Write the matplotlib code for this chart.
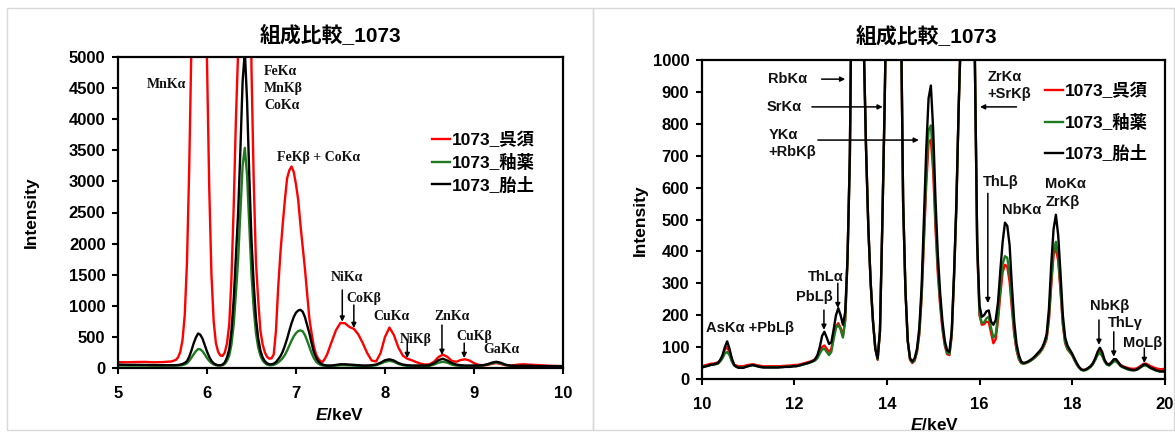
import matplotlib
matplotlib.use("Agg")
import matplotlib.pyplot as plt
from matplotlib.patches import Rectangle

plt.rcParams['font.family'] = ['Liberation Sans', 'Noto Sans CJK JP', 'DejaVu Sans']
plt.rcParams['mathtext.fontset'] = 'custom'
plt.rcParams['mathtext.it'] = 'Liberation Sans:bold:italic'
plt.rcParams['mathtext.rm'] = 'Liberation Sans:bold'

# ---------------- data: left panel (5-10 keV) ----------------
energy_low = [5.0, 5.1, 5.2, 5.3, 5.4, 5.5, 5.6,
              5.650, 5.675, 5.700, 5.725, 5.750, 5.775, 5.800, 5.825, 5.850, 5.875, 5.900, 5.925, 5.950, 5.975,
              6.000, 6.025, 6.050, 6.075, 6.100, 6.125, 6.150, 6.175, 6.200, 6.225, 6.250, 6.275, 6.300, 6.325,
              6.350, 6.375, 6.400, 6.425, 6.450, 6.475, 6.500, 6.525, 6.550, 6.575, 6.600, 6.625, 6.650, 6.675,
              6.700, 6.725, 6.750, 6.775, 6.800, 6.825, 6.850, 6.875, 6.900, 6.925, 6.950, 6.975,
              7.000, 7.025, 7.050, 7.075, 7.100, 7.125, 7.150, 7.175, 7.200, 7.225, 7.250, 7.275, 7.300, 7.325, 7.350,
              7.40, 7.45, 7.50, 7.55, 7.60, 7.65, 7.70, 7.75, 7.80, 7.85, 7.90, 7.95,
              8.00, 8.05, 8.10, 8.15, 8.20, 8.25, 8.30, 8.35, 8.40, 8.45, 8.50, 8.55, 8.60, 8.65, 8.70, 8.75, 8.80, 8.85, 8.90, 8.95,
              9.00, 9.05, 9.10, 9.15, 9.20, 9.25, 9.30, 9.35, 9.40, 9.45, 9.50, 9.55, 9.60, 9.65, 9.70, 9.75, 9.80, 9.85, 9.90, 9.95,
              10.00]

gosu_low = [95, 92, 96, 98, 92, 95, 105,
            130, 170, 260, 450, 850, 1700, 3200, 5200, 8500, 11500, 13000, 12500, 10000, 7000,
            4900, 2900, 1500, 750, 400, 260, 200, 195, 250, 400, 700, 1450, 2600, 4000,
            5100, 9000, 14000, 16000, 13000, 8000, 4800, 3000, 1700, 1100, 600, 380, 250, 180,
            150, 155, 220, 600, 1300, 1850, 2300, 2700, 3050, 3180, 3240, 3150,
            2950, 2700, 2300, 1950, 1600, 1200, 800, 560, 350, 220, 150, 110, 100, 150, 220,
            420, 610, 725, 720, 660, 630, 540, 400, 240, 120, 105, 240,
            500, 650, 530, 330, 200, 150, 125, 95, 70, 55, 60, 100, 175, 215, 180, 115, 100, 128, 140, 120,
            78, 52, 42, 48, 68, 80, 65, 45, 40, 45, 55, 60, 55, 52, 48, 44, 40, 36, 34, 32,
            30]

yuyaku_low = [40, 40, 40, 40, 38, 38, 38,
              38, 40, 42, 48, 58, 75, 115, 165, 220, 270, 305, 300, 268, 218,
              160, 115, 80, 58, 45, 40, 40, 45, 65, 115, 200, 380, 700, 1200,
              1750, 2500, 3250, 3540, 3100, 2300, 1500, 950, 560, 330, 200, 120, 80, 55,
              45, 45, 50, 65, 90, 120, 160, 210, 280, 360, 440, 510,
              560, 595, 605, 590, 530, 440, 340, 240, 160, 105, 70, 50, 40, 35, 35,
              32, 38, 45, 45, 42, 38, 35, 32, 32, 35, 45, 70,
              100, 115, 100, 65, 45, 35, 32, 30, 30, 30, 35, 55, 85, 100, 85, 55, 40, 32, 30, 30,
              30, 32, 40, 55, 75, 90, 75, 50, 35, 30, 30, 30, 30, 30, 28, 28, 28, 28, 28, 28,
              28]

taido_low = [55, 50, 50, 48, 46, 45, 45,
             46, 48, 54, 65, 82, 110, 180, 280, 395, 490, 555, 535, 470, 370,
             265, 180, 115, 75, 55, 45, 45, 55, 90, 170, 300, 600, 1100, 1800,
             2500, 3500, 4600, 5100, 4300, 3100, 2050, 1350, 800, 480, 280, 170, 110, 75,
             60, 60, 70, 95, 140, 190, 260, 360, 470, 600, 720, 820,
             890, 925, 935, 905, 820, 690, 560, 400, 260, 170, 110, 75, 55, 45, 40,
             40, 50, 60, 60, 55, 50, 45, 40, 40, 45, 55, 85,
             125, 140, 120, 80, 55, 45, 40, 40, 40, 40, 45, 75, 125, 150, 120, 80, 55, 45, 40, 40,
             40, 40, 45, 60, 85, 100, 85, 55, 40, 35, 35, 35, 35, 35, 30, 30, 30, 30, 30, 30,
             30]

# ---------------- data: right panel (10-20 keV) ----------------
energy_high = [10.00, 10.05, 10.10, 10.15, 10.20, 10.25, 10.30, 10.35, 10.40, 10.45, 10.50, 10.55, 10.60, 10.65, 10.70, 10.75, 10.80, 10.85, 10.90, 10.95,
               11.00, 11.05, 11.10, 11.15, 11.20, 11.25, 11.30, 11.35, 11.40, 11.45, 11.50, 11.55, 11.60, 11.65, 11.70, 11.75, 11.80, 11.85, 11.90, 11.95,
               12.00, 12.05, 12.10, 12.15, 12.20, 12.25, 12.30, 12.35, 12.40, 12.45, 12.50, 12.55, 12.60, 12.65, 12.70, 12.75, 12.80, 12.85, 12.90, 12.95,
               13.00, 13.05, 13.10, 13.15, 13.20, 13.25, 13.30, 13.35, 13.40, 13.45, 13.50, 13.55, 13.60, 13.65, 13.70, 13.75, 13.80, 13.85, 13.90, 13.95,
               14.00, 14.05, 14.10, 14.15, 14.20, 14.25, 14.30, 14.35, 14.40, 14.45, 14.50, 14.55, 14.60, 14.65, 14.70, 14.75, 14.80, 14.85, 14.90, 14.95,
               15.00, 15.05, 15.10, 15.15, 15.20, 15.25, 15.30, 15.35, 15.40, 15.45, 15.50, 15.55, 15.60, 15.65, 15.70, 15.75, 15.80, 15.85, 15.90, 15.95,
               16.00, 16.05, 16.10, 16.15, 16.20, 16.25, 16.30, 16.35, 16.40, 16.45, 16.50, 16.55, 16.60, 16.65, 16.70, 16.75, 16.80, 16.85, 16.90, 16.95,
               17.00, 17.05, 17.10, 17.15, 17.20, 17.25, 17.30, 17.35, 17.40, 17.45, 17.50, 17.55, 17.60, 17.65, 17.70, 17.75, 17.80, 17.85, 17.90, 17.95,
               18.00, 18.05, 18.10, 18.15, 18.20, 18.25, 18.30, 18.35, 18.40, 18.45, 18.50, 18.55, 18.60, 18.65, 18.70, 18.75, 18.80, 18.85, 18.90, 18.95,
               19.00, 19.05, 19.10, 19.15, 19.20, 19.25, 19.30, 19.35, 19.40, 19.45, 19.50, 19.55, 19.60, 19.65, 19.70, 19.75, 19.80, 19.85, 19.90, 19.95,
               20.00]

gosu_high = [40, 42, 44, 46, 48, 48, 50, 52, 58, 70, 92, 100, 85, 60, 45, 42, 40, 40, 40, 42,
             44, 45, 46, 45, 43, 42, 40, 40, 40, 40, 40, 40, 40, 40, 40, 41, 41, 42, 42, 43,
             44, 44, 45, 47, 49, 51, 53, 55, 58, 62, 70, 85, 100, 105, 95, 85, 95, 135, 165, 175,
             160, 135, 185, 380, 700, 1400, 2200, 2800, 2700, 1900, 1050, 720, 470, 300, 180, 95, 60, 150, 480, 850,
             1300, 2500, 3500, 3800, 3300, 2300, 1200, 560, 280, 120, 60, 50, 58, 85, 140, 255, 430, 610, 740, 750,
             650, 470, 330, 230, 155, 105, 78, 75, 135, 315, 535, 850, 1100, 2500, 3800, 4200, 3600, 2000, 1000, 415,
             200, 170, 172, 180, 178, 145, 112, 125, 185, 265, 335, 358, 352, 305, 220, 140, 90, 62, 50, 48,
             50, 53, 57, 62, 68, 75, 82, 92, 106, 125, 185, 295, 390, 410, 370, 275, 170, 112, 93, 84,
             75, 60, 46, 36, 30, 28, 30, 34, 40, 48, 62, 78, 86, 76, 58, 48, 46, 52, 60, 60,
             52, 44, 40, 37, 35, 33, 32, 32, 34, 38, 43, 48, 48, 44, 40, 37, 34, 32, 31, 31,
             32]

yuyaku_high = [38, 40, 40, 42, 44, 45, 46, 48, 55, 65, 80, 85, 75, 55, 42, 38, 36, 36, 36, 38,
               40, 42, 43, 42, 40, 38, 37, 37, 37, 37, 37, 37, 37, 37, 37, 38, 38, 38, 39, 40,
               40, 41, 42, 44, 46, 48, 50, 52, 55, 58, 65, 80, 92, 95, 85, 75, 85, 125, 160, 170,
               155, 130, 185, 380, 700, 1400, 2200, 2800, 2700, 1900, 1050, 720, 470, 300, 180, 95, 62, 150, 480, 850,
               1300, 2500, 3500, 3800, 3300, 2300, 1200, 560, 280, 120, 62, 52, 60, 88, 145, 265, 450, 640, 780, 795,
               690, 500, 350, 245, 165, 110, 82, 78, 140, 320, 540, 850, 1100, 2500, 3800, 4200, 3600, 2000, 1000, 420,
               205, 175, 178, 190, 195, 160, 130, 140, 200, 285, 360, 385, 380, 330, 235, 150, 95, 65, 50, 48,
               50, 53, 57, 62, 68, 76, 84, 94, 110, 130, 195, 310, 405, 430, 385, 285, 175, 115, 95, 85,
               75, 60, 46, 35, 28, 26, 28, 32, 38, 46, 60, 75, 82, 72, 55, 45, 42, 48, 55, 55,
               48, 40, 36, 33, 30, 28, 27, 27, 29, 33, 38, 42, 42, 38, 33, 30, 27, 25, 23, 23,
               23]

taido_high = [35, 38, 40, 42, 45, 45, 48, 50, 60, 75, 100, 118, 95, 65, 45, 38, 35, 35, 35, 38,
              40, 42, 44, 42, 40, 38, 37, 36, 36, 36, 36, 36, 36, 36, 37, 37, 38, 38, 38, 39,
              40, 40, 42, 44, 46, 48, 50, 53, 56, 62, 75, 100, 135, 148, 130, 110, 115, 155, 200, 222,
              200, 170, 210, 380, 700, 1400, 2200, 2800, 2700, 1900, 1050, 720, 470, 300, 180, 95, 65, 150, 480, 850,
              1300, 2500, 3500, 3800, 3300, 2300, 1200, 560, 280, 120, 65, 55, 65, 95, 160, 290, 500, 720, 880, 920,
              780, 560, 390, 270, 180, 120, 90, 85, 150, 330, 550, 850, 1100, 2500, 3800, 4200, 3600, 2000, 1000, 430,
              230, 195, 200, 212, 215, 180, 170, 185, 240, 340, 430, 490, 480, 420, 290, 180, 110, 75, 55, 50,
              52, 55, 60, 65, 72, 80, 88, 98, 115, 140, 220, 360, 470, 515, 450, 330, 200, 130, 105, 92,
              80, 65, 50, 38, 30, 28, 30, 35, 40, 50, 65, 85, 98, 85, 60, 48, 45, 52, 62, 62,
              52, 42, 38, 35, 32, 30, 28, 28, 30, 35, 40, 46, 45, 40, 35, 32, 28, 26, 24, 24,
              24]

series_labels = ['1073_呉須', '1073_釉薬', '1073_胎土']
series_colors = ['#ff0000', '#1f7a1f', '#000000']
title_text = '組成比較_1073'
yticks_low = [0, 500, 1000, 1500, 2000, 2500, 3000, 3500, 4000, 4500, 5000]
xticks_low = [5, 6, 7, 8, 9, 10]
yticks_high = [0, 100, 200, 300, 400, 500, 600, 700, 800, 900, 1000]
xticks_high = [10, 12, 14, 16, 18, 20]

W, H = 1175, 434
fig = plt.figure(figsize=(W / 100, H / 100), dpi=100)

def fx(px):
    return px / W

def fy(py):
    return 1 - py / H

# panel borders
fig.patches.append(Rectangle((fx(7), fy(430)), fx(593) - fx(7), fy(8) - fy(430),
                             transform=fig.transFigure, fill=False, edgecolor='#d9d9d9', lw=1))
fig.patches.append(Rectangle((fx(593), fy(430)), fx(1174) - fx(593), fy(8) - fy(430),
                             transform=fig.transFigure, fill=False, edgecolor='#d9d9d9', lw=1))

ax1 = fig.add_axes([fx(118), fy(368), fx(563) - fx(118), fy(57) - fy(368)])
ax2 = fig.add_axes([fx(701.7), fy(379), fx(1164.7) - fx(701.7), fy(60) - fy(379)])

for ax, x, ys in [(ax1, energy_low, [gosu_low, yuyaku_low, taido_low]),
                  (ax2, energy_high, [gosu_high, yuyaku_high, taido_high])]:
    for y, c, lab in zip(ys, series_colors, series_labels):
        ax.plot(x, y, color=c, lw=1.7, label=lab, solid_joinstyle='round')
    for s in ax.spines.values():
        s.set_linewidth(1.6)
    ax.tick_params(direction='out', length=4, width=1.5, labelsize=12, pad=5)

ax1.set_xlim(5, 10)
ax1.set_ylim(0, 5000)
ax1.set_xticks(xticks_low)
ax1.set_yticks(yticks_low)
ax2.set_xlim(10, 20)
ax2.set_ylim(0, 1000)
ax2.set_xticks(xticks_high)
ax2.set_yticks(yticks_high)
for ax in (ax1, ax2):
    ax.set_xticklabels([str(v) for v in ax.get_xticks().astype(int)], fontweight='bold', fontsize=12)
    ax.set_yticklabels([str(v) for v in ax.get_yticks().astype(int)], fontweight='bold', fontsize=12)
    ax.tick_params(axis='x', pad=9)

# titles and axis labels
fig.text(fx(330), fy(35), title_text, ha='center', va='center', fontsize=15, fontweight='bold')
fig.text(fx(926), fy(36), title_text, ha='center', va='center', fontsize=15, fontweight='bold')
fig.text(fx(31), fy(212), 'Intensity', rotation=90, ha='center', va='center', fontsize=12.5, fontweight='bold')
fig.text(fx(640), fy(220), 'Intensity', rotation=90, ha='center', va='center', fontsize=12.5, fontweight='bold')
fig.text(fx(340), fy(415), r'$\mathit{E}$/keV', ha='center', va='center', fontsize=12.5, fontweight='bold')
fig.text(fx(935), fy(425), r'$\mathit{E}$/keV', ha='center', va='center', fontsize=12.5, fontweight='bold')

# legends
for ax, bx, by, sp in [(ax1, 432, 132, 0.32), (ax2, 1045, 83, 0.82)]:
    ax.legend(loc='upper left', bbox_to_anchor=(fx(bx), fy(by)), bbox_transform=fig.transFigure,
              frameon=False, handlelength=1.05, handletextpad=0.12, borderpad=0, borderaxespad=0,
              labelspacing=sp, prop={'family': ['Liberation Sans', 'Noto Sans CJK JP'], 'weight': 'bold', 'size': 12.5})

arrow_kw = dict(arrowstyle='-|>', color='black', lw=1.1, mutation_scale=7, shrinkA=0, shrinkB=0)

# left annotations (serif)
serif = dict(family=['Liberation Serif', 'DejaVu Serif'], fontweight='bold', fontsize=10, color='#111111')
ax1.text(5.55, 4550, 'MnKα', ha='center', va='center', **serif)
ax1.text(6.64, 4760, 'FeKα', ha='left', va='center', **serif)
ax1.text(6.64, 4490, 'MnKβ', ha='left', va='center', **serif)
ax1.text(6.64, 4215, 'CoKα', ha='left', va='center', **serif)
ax1.text(6.79, 3377, 'FeKβ + CoKα', ha='left', va='center', **serif)
ax1.text(7.575, 1447, 'NiKα', ha='center', va='center', **serif)
ax1.text(7.76, 1110, 'CoKβ', ha='center', va='center', **serif)
ax1.text(8.07, 820, 'CuKα', ha='center', va='center', **serif)
ax1.text(8.35, 466, 'NiKβ', ha='center', va='center', **serif)
ax1.text(8.75, 820, 'ZnKα', ha='center', va='center', **serif)
ax1.text(9.0, 500, 'CuKβ', ha='center', va='center', **serif)
ax1.text(9.31, 290, 'GaKα', ha='center', va='center', **serif)
for xa, y0, y1 in [(7.52, 1254, 745), (7.65, 1013, 643), (8.25, 423, 160), (8.64, 690, 210), (8.89, 400, 160)]:
    ax1.annotate('', xy=(xa, y1), xytext=(xa, y0), arrowprops=arrow_kw)

# right annotations (sans)
sans = dict(fontweight='bold', fontsize=10.5, color='#111111')
ax2.text(11.86, 940, 'RbKα', ha='center', va='center', **sans)
ax2.text(11.78, 853, 'SrKα', ha='center', va='center', **sans)
ax2.text(11.45, 765, 'YKα', ha='left', va='center', **sans)
ax2.text(11.45, 712, '+RbKβ', ha='left', va='center', **sans)
ax2.text(11.04, 160, 'AsKα +PbLβ', ha='center', va='center', **sans)
ax2.text(12.43, 257, 'PbLβ', ha='center', va='center', **sans)
ax2.text(12.69, 320, 'ThLα', ha='center', va='center', **sans)
ax2.text(16.18, 947, 'ZrKα', ha='left', va='center', **sans)
ax2.text(16.18, 893, '+SrKβ', ha='left', va='center', **sans)
ax2.text(16.45, 619, 'ThLβ', ha='center', va='center', **sans)
ax2.text(16.91, 530, 'NbKα', ha='center', va='center', **sans)
ax2.text(17.42, 611, 'MoKα', ha='left', va='center', **sans)
ax2.text(17.42, 556, 'ZrKβ', ha='left', va='center', **sans)
ax2.text(18.82, 229, 'NbKβ', ha='center', va='center', **sans)
ax2.text(19.15, 176, 'ThLγ', ha='center', va='center', **sans)
ax2.text(19.53, 114, 'MoLβ', ha='center', va='center', **sans)
for (x0, y0), (x1, y1) in [((12.59, 940), (13.10, 940)), ((12.38, 853), (13.91, 853)),
                           ((12.51, 749), (14.69, 749)), ((16.80, 853), (16.01, 853)),
                           ((12.64, 216), (12.64, 154)), ((12.94, 300), (12.94, 222)),
                           ((16.18, 582), (16.18, 238)), ((18.58, 185), (18.58, 107)),
                           ((18.90, 148), (18.90, 70)), ((19.56, 97), (19.56, 50))]:
    ax2.annotate('', xy=(x1, y1), xytext=(x0, y0), arrowprops=arrow_kw)

fig.savefig('out.png', dpi=100)
